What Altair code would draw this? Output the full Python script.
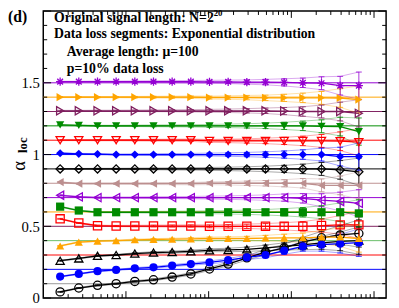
import altair as alt
import pandas as pd

# ---------------- data ----------------
xs = [16, 26.9, 45.3, 76.1, 128, 215.3, 362, 608.9, 1024, 1722, 2896, 4871,
      8192, 13777, 23170, 38968, 65536]

targets = [0.1, 0.2, 0.3, 0.4, 0.5, 0.6, 0.7, 0.8, 0.9, 1.0, 1.1, 1.2, 1.3, 1.4, 1.5]

s01 = [0.043, 0.07, 0.089, 0.10, 0.116, 0.127, 0.146, 0.168, 0.203, 0.237, 0.28, 0.32, 0.35, 0.39, 0.42, 0.44, 0.45]
s02 = [0.15, 0.168, 0.187, 0.196, 0.207, 0.214, 0.226, 0.237, 0.248, 0.264, 0.283, 0.30, 0.33, 0.36, 0.372, 0.379, 0.386]
s03 = [0.26, 0.276, 0.294, 0.30, 0.31, 0.317, 0.32, 0.326, 0.333, 0.335, 0.34, 0.35, 0.36, 0.37, 0.385, 0.395, 0.40]
s04 = [0.363, 0.39, 0.397, 0.40, 0.406, 0.408, 0.41, 0.412, 0.415, 0.415, 0.415, 0.418, 0.42, 0.42, 0.425, 0.425, 0.415]
s05 = [0.552, 0.523, 0.504, 0.502, 0.502, 0.502, 0.502, 0.502, 0.50, 0.50, 0.50, 0.50, 0.50, 0.50, 0.505, 0.51, 0.51]
s06 = [0.637, 0.61, 0.598, 0.598, 0.598, 0.598, 0.598, 0.598, 0.598, 0.598, 0.598, 0.598, 0.598, 0.598, 0.598, 0.598, 0.59]
s07 = [0.716, 0.705, 0.70, 0.70, 0.70, 0.70, 0.70, 0.70, 0.70, 0.70, 0.70, 0.70, 0.70, 0.695, 0.682, 0.673, 0.66]
s08 = [0.808, 0.797, 0.797, 0.797, 0.797, 0.797, 0.797, 0.797, 0.80, 0.80, 0.80, 0.80, 0.80, 0.80, 0.785, 0.785, 0.785]
s09 = [0.90, 0.90, 0.90, 0.90, 0.90, 0.90, 0.90, 0.90, 0.90, 0.90, 0.90, 0.90, 0.90, 0.90, 0.90, 0.893, 0.88]
s10 = [1.009, 1.005, 1.003, 1.0, 1.0, 1.0, 1.0, 1.0, 1.0, 1.0, 1.0, 1.0, 1.0, 1.0, 1.0, 0.986, 0.986]
s11 = [1.10, 1.10, 1.10, 1.10, 1.10, 1.10, 1.10, 1.10, 1.095, 1.095, 1.095, 1.095, 1.095, 1.095, 1.095, 1.093, 1.086]
s12 = [1.207, 1.203, 1.20, 1.20, 1.20, 1.20, 1.20, 1.20, 1.20, 1.20, 1.20, 1.20, 1.20, 1.20, 1.197, 1.195, 1.16]
s13 = [1.305, 1.305, 1.305, 1.305, 1.305, 1.305, 1.305, 1.305, 1.305, 1.305, 1.305, 1.305, 1.303, 1.30, 1.30, 1.30, 1.287]
s14 = [1.40, 1.40, 1.40, 1.40, 1.40, 1.40, 1.40, 1.40, 1.397, 1.397, 1.397, 1.395, 1.395, 1.395, 1.395, 1.394, 1.383]
s15 = [1.508, 1.508, 1.508, 1.508, 1.508, 1.508, 1.508, 1.508, 1.507, 1.507, 1.505, 1.505, 1.503, 1.50, 1.497, 1.48, 1.48]
series_values = [s01, s02, s03, s04, s05, s06, s07, s08, s09, s10, s11, s12, s13, s14, s15]

errs = [0.003, 0.003, 0.004, 0.004, 0.005, 0.006, 0.007, 0.008, 0.010, 0.012,
        0.015, 0.019, 0.025, 0.033, 0.045, 0.065, 0.095]

ASTER = "M-1,0L1,0M0,-1L0,1M-0.7,-0.7L0.7,0.7M-0.7,0.7L0.7,-0.7"
marker_colors = ["#000000", "#0000ff", "#000000", "#ffa500", "#ff0000", "#008b00",
                 "#9400d3", "#bc8f8f", "#000000", "#0000ff", "#ff0000", "#008b00",
                 "#7f1f5f", "#ffa500", "#9400d3"]
marker_shapes = ["circle", "circle", "triangle-up", "triangle-up", "square", "square",
                 "triangle-left", "triangle-left", "diamond", "diamond",
                 "triangle-down", "triangle-down", "triangle-right", "triangle-right", ASTER]
marker_filled = [False, True, False, True, False, True, False, True,
                 False, True, False, True, False, True, False]
ref_colors = ["#999999", "#0000ff", "#ff0000", "#66bb66", "#7f1f5f", "#ffa500",
              "#9400d3", "#bc8f8f", "#000000", "#0000ff", "#ff0000", "#008b00",
              "#7f1f5f", "#ffa500", "#9400d3"]

y_major = [0.0, 0.5, 1.0, 1.5, 2.0]
y_minor = [0.1, 0.2, 0.3, 0.4, 0.6, 0.7, 0.8, 0.9, 1.1, 1.2, 1.3, 1.4, 1.6, 1.7, 1.8, 1.9]
x_major = [100, 1000, 10000, 100000]
x_minor = [20, 30, 40, 50, 60, 70, 80, 90,
           200, 300, 400, 500, 600, 700, 800, 900,
           2000, 3000, 4000, 5000, 6000, 7000, 8000, 9000,
           20000, 30000, 40000, 50000, 60000, 70000, 80000, 90000]

info_lines = ["Original signal length: N=2", "Data loss segments: Exponential distribution",
              "Average length: \u03bc=100", "p=10% data loss"]
sup_text = "20"
panel_label = "(d)"
ytitle_main = "\u03b1"
ytitle_sub = "loc"

# ---------------- build tables ----------------
rows = []
for i, vals in enumerate(series_values):
    for x, y, e in zip(xs, vals, errs):
        rows.append(dict(sid=i, x=x, y=y, lo=y - e, hi=y + e,
                         col=marker_colors[i], shape=marker_shapes[i],
                         filled=marker_filled[i]))
df = pd.DataFrame(rows)
df_ref = pd.DataFrame(dict(t=targets, col=ref_colors))

W, H = 350, 293
FONT = "Liberation Serif"

xsc = alt.Scale(type="log", domain=[10, 140000])
ysc = alt.Scale(domain=[0, 2.0])
yaxis = alt.Axis(values=[0, 0.5, 1, 1.5], ticks=False, domain=False, grid=False,
                 labelFont=FONT, labelFontSize=15, labelColor="black",
                 labelPadding=4, format="~g", title=None)


def X(f):
    return alt.X(f, type="quantitative", scale=xsc, axis=None)


def Y(f):
    return alt.Y(f, type="quantitative", scale=ysc, axis=yaxis)


col = alt.Color("col:N", scale=None)

ref = alt.Chart(df_ref).mark_rule(strokeWidth=1).encode(y=Y("t"), color=col)

base = alt.Chart(df)
env_lo = base.mark_line(strokeWidth=1, opacity=0.35).encode(x=X("x"), y=Y("lo"), color=col, detail="sid:N")
env_hi = base.mark_line(strokeWidth=1, opacity=0.35).encode(x=X("x"), y=Y("hi"), color=col, detail="sid:N")
ebar = base.mark_rule(strokeWidth=1, opacity=0.8).encode(x=X("x"), y=Y("lo"), y2="hi", color=col)
cap_lo = base.mark_tick(orient="horizontal", size=6, thickness=1, opacity=0.8).encode(x=X("x"), y=Y("lo"), color=col)
cap_hi = base.mark_tick(orient="horizontal", size=6, thickness=1, opacity=0.8).encode(x=X("x"), y=Y("hi"), color=col)
lines = base.mark_line(strokeWidth=1.3).encode(x=X("x"), y=Y("y"), color=col, detail="sid:N")

open_pts = base.transform_filter("!datum.filled").mark_point(
    filled=False, size=70, strokeWidth=1.3, opacity=1).encode(
    x=X("x"), y=Y("y"), color=col, shape=alt.Shape("shape:N", scale=None))
fill_pts = base.transform_filter("datum.filled").mark_point(
    filled=True, size=70, opacity=1).encode(
    x=X("x"), y=Y("y"), color=col, shape=alt.Shape("shape:N", scale=None))

# inward ticks on all four sides
dym = pd.DataFrame(dict(v=y_major))
dyn = pd.DataFrame(dict(v=y_minor))
dxm = pd.DataFrame(dict(v=x_major))
dxn = pd.DataFrame(dict(v=x_minor))
tk = dict(color="black", strokeWidth=1)
ticks = [
    alt.Chart(dym).mark_rule(**tk).encode(y=Y("v"), x=alt.value(0), x2=alt.value(8)),
    alt.Chart(dym).mark_rule(**tk).encode(y=Y("v"), x=alt.value(W - 8), x2=alt.value(W)),
    alt.Chart(dyn).mark_rule(**tk).encode(y=Y("v"), x=alt.value(0), x2=alt.value(4)),
    alt.Chart(dyn).mark_rule(**tk).encode(y=Y("v"), x=alt.value(W - 4), x2=alt.value(W)),
    alt.Chart(dxm).mark_rule(**tk).encode(x=X("v"), y=alt.value(H), y2=alt.value(H - 7)),
    alt.Chart(dxm).mark_rule(**tk).encode(x=X("v"), y=alt.value(0), y2=alt.value(7)),
    alt.Chart(dxn).mark_rule(**tk).encode(x=X("v"), y=alt.value(H), y2=alt.value(H - 4)),
    alt.Chart(dxn).mark_rule(**tk).encode(x=X("v"), y=alt.value(0), y2=alt.value(4)),
]

# annotations
one = pd.DataFrame(dict(a=[0]))
txt = dict(font=FONT, fontWeight="bold", color="black", align="left", baseline="alphabetic")
notes = [
    alt.Chart(one).mark_text(text=info_lines[0], fontSize=14, **txt).encode(x=alt.value(11), y=alt.value(11)),
    alt.Chart(one).mark_text(text=sup_text, fontSize=9, **txt).encode(x=alt.value(174), y=alt.value(5)),
    alt.Chart(one).mark_text(text=info_lines[1], fontSize=14, **txt).encode(x=alt.value(11), y=alt.value(28)),
    alt.Chart(one).mark_text(text=info_lines[2], fontSize=14, **txt).encode(x=alt.value(24), y=alt.value(46)),
    alt.Chart(one).mark_text(text=info_lines[3], fontSize=14, **txt).encode(x=alt.value(24), y=alt.value(63)),
    alt.Chart(one).mark_text(text=panel_label, fontSize=16, **txt).encode(x=alt.value(-36), y=alt.value(11)),
    alt.Chart(one).mark_text(text=ytitle_main, fontSize=19, font=FONT, color="black", angle=270,
                             align="center", baseline="middle").encode(x=alt.value(-25), y=alt.value(158)),
    alt.Chart(one).mark_text(text=ytitle_sub, fontSize=13, font=FONT, fontWeight="bold", color="black",
                             angle=270, align="center", baseline="middle").encode(x=alt.value(-21), y=alt.value(137)),
]

chart = alt.layer(
    ref, env_lo, env_hi, ebar, cap_lo, cap_hi, lines, open_pts, fill_pts, *ticks, *notes
).properties(
    width=W, height=H,
    autosize=alt.AutoSizeParams(type="none"),
    padding={"left": 36, "top": 0, "right": 5, "bottom": 5},
).configure_view(stroke="black", strokeWidth=1.5)

chart.save("out.html", embed_options={"renderer": "svg", "actions": False})
